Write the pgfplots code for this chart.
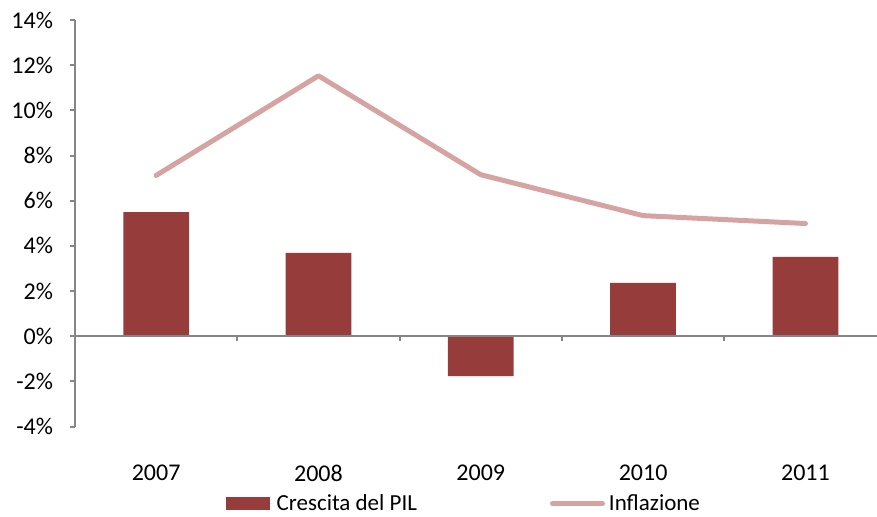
\documentclass[border=0pt]{standalone}
\usepackage{pgfplots}
\pgfplotsset{compat=1.18}
\usepackage{fontspec}
\setmainfont{Carlito}
\definecolor{barred}{RGB}{150,61,59}
\definecolor{linepink}{RGB}{213,164,162}
\definecolor{axgrey}{RGB}{134,134,134}
\begin{document}
\begin{tikzpicture}
\begin{axis}[
  at={(0,0)}, anchor=south west,
  scale only axis, width=401bp, height=203.3bp,
  xmin=-0.5, xmax=4.441, ymin=-4, ymax=14,
  axis lines=left,
  axis line style={-, axgrey, line width=1bp},
  x axis line style={draw=none},
  xtick={0,1,2,3,4},
  xticklabels={2007,2008,2009,2010,2011},
  major x tick style={draw=none},
  ytick={-4,-2,0,2,4,6,8,10,12,14},
  yticklabels={-4\%,-2\%,0\%,2\%,4\%,6\%,8\%,10\%,12\%,14\%},
  tick align=outside,
  major tick length=2.5bp,
  y tick style={axgrey, line width=1bp},
  every tick label/.append style={font=\fontsize{12bp}{14bp}\selectfont, text=black},
  xticklabel style={yshift=-13bp},
  yticklabel style={xshift=-5bp},
  legend style={at={(axis description cs:0.486,-0.19)}, anchor=center, draw=none, fill=none,
    font=\fontsize{11.5bp}{14bp}\selectfont, legend columns=2,
    /tikz/every even column/.append style={column sep=64.5bp}},
  clip=false,
]
\addplot[ybar, bar width=0.405, fill=barred, draw=none,
  legend image code/.code={\fill[barred] (0bp,-3.25bp) rectangle (22bp,3.25bp);\path (0bp,0bp) -- (23.5bp,0bp);}]
  coordinates {(0,5.50) (1,3.69) (2,-1.77) (3,2.36) (4,3.51)};
\addlegendentry{Crescita del PIL}
\addplot[linepink, line width=2.5bp, line cap=round, line join=round, mark=none,
  legend image code/.code={\draw[linepink, line width=2.5bp, line cap=round] (0bp,0bp) -- (25bp,0bp);}]
  coordinates {(0,7.12) (1,11.53) (2,7.15) (3,5.34) (4,4.99)};
\addlegendentry{Inflazione}
\draw[axgrey, line width=1bp] (axis cs:-0.5,0) -- (axis cs:4.441,0);
\pgfplotsinvokeforeach{0.5,1.5,2.5,3.5}{
  \draw[axgrey, line width=1bp] (axis cs:#1,0) -- ([yshift=-2.5bp]axis cs:#1,0);
}
\end{axis}
\pgfresetboundingbox
\path (-37.5bp,-45.15bp) rectangle (401bp,213.3bp);
\end{tikzpicture}
\end{document}
